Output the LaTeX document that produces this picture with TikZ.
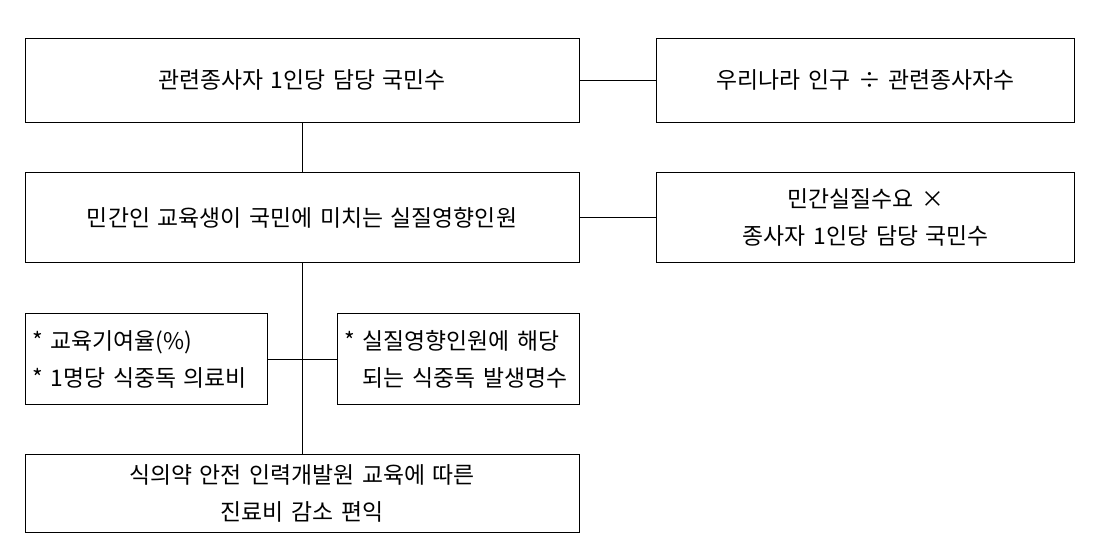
\documentclass[tikz,border=0pt]{standalone}
\usepackage{fontspec}
\setmainfont[WordSpace=1.5]{Noto Sans CJK KR}
\usetikzlibrary{positioning}
\tikzset{block/.style={draw,line width=0.5pt,minimum height=1.68cm,align=center,inner sep=0.2cm,
                       font=\fontsize{13pt}{21pt}\selectfont},
         wide/.style={block,minimum width=11.08cm},
         side/.style={block,minimum width=8.36cm},
         small/.style={block,minimum height=1.82cm,inner xsep=0.15cm,text width=4.54cm,align=left},
         line/.style={line width=0.5pt}
}

\begin{document}
\begin{tikzpicture}

\useasboundingbox (0,0) rectangle (21.92,-11.0);
\node[wide] (burden) at (6.04,-1.60) {관련종사자 1인당 담당 국민수};
\node[side,right=1.54cm of burden] (pop) {우리나라 인구 ÷ 관련종사자수};
\node[wide,minimum height=1.8cm,below=1.0cm of burden] (affected) {민간인 교육생이 국민에 미치는 실질영향인원};
\node[side,minimum height=1.8cm,right=1.54cm of affected] (demand) {민간실질수요 ×\\종사자 1인당 담당 국민수};
\node[small,below=1.0cm of affected.south west,anchor=north west] (rate) {{*}\ 교육기여율(\%)\\{*}\ 1명당 식중독 의료비};
\node[small,below=1.0cm of affected.south east,anchor=north east] (cases) {{*}\ 실질영향인원에 해당\\\phantom{*\ }되는 식중독 발생명수};
\node[wide,minimum height=1.56cm,below=0.98cm of rate.south west,anchor=north west] (benefit) {식의약 안전 인력개발원 교육에 따른\\진료비 감소 편익};
\draw[line] (burden)--(pop);
\draw[line] (affected)--(demand);
\draw[line] (burden)--(affected);
\draw[line] (affected)--(benefit);
\draw[line] (rate)--(cases);

\end{tikzpicture}
\end{document}
